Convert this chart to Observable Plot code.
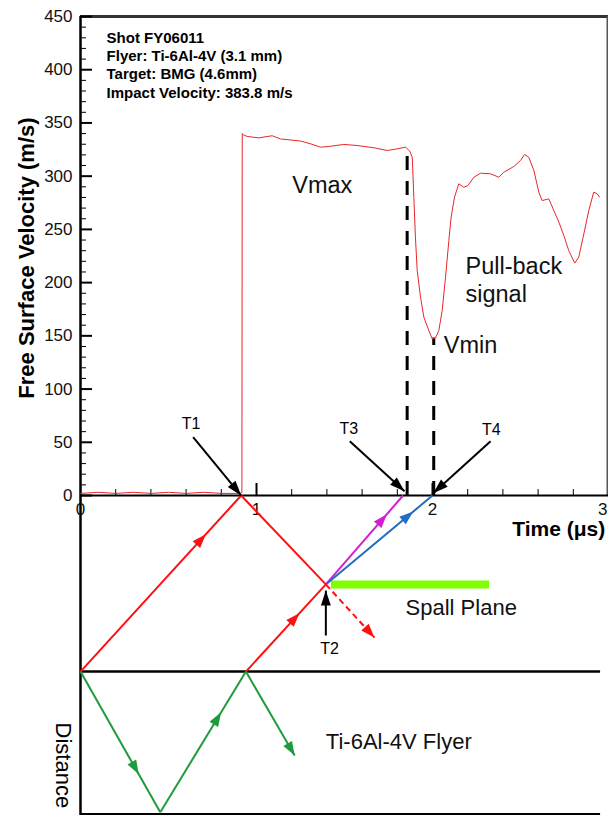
<!DOCTYPE html>
<html><head><meta charset="utf-8">
<script src="https://cdn.jsdelivr.net/npm/d3@7"></script>
<script src="https://cdn.jsdelivr.net/npm/@observablehq/plot@0.6"></script>
<style>
html,body{margin:0;padding:0;background:#fff;}
#chart svg{display:block;}
</style>
</head><body><div id="chart"></div>
<script>
// ---------- Data: free-surface velocity trace (time in µs, velocity in m/s) ----------
const time = [0, 0.1, 0.2, 0.3, 0.4, 0.5, 0.6, 0.7, 0.8, 0.905, 0.917, 0.919, 0.924, 0.947, 1.013, 1.089, 1.136, 1.193, 1.25, 1.307, 1.364, 1.411, 1.496, 1.572, 1.667, 1.743, 1.799, 1.847, 1.871, 1.885, 1.894, 1.903, 1.913, 1.932, 1.951, 1.979, 1.998, 2.017, 2.036, 2.055, 2.074, 2.093, 2.106, 2.125, 2.149, 2.178, 2.201, 2.235, 2.273, 2.330, 2.377, 2.405, 2.462, 2.5, 2.523, 2.547, 2.576, 2.604, 2.623, 2.661, 2.689, 2.718, 2.746, 2.774, 2.808, 2.831, 2.860, 2.888, 2.916, 2.936, 2.949];
const velocity = [2, 3, 2, 3, 2, 3, 2, 3, 2, 2, 3, 340, 339, 337.3, 336, 338, 335, 334, 333, 330.4, 327.2, 327.9, 329.8, 328.8, 326.7, 324.1, 325.7, 327.2, 323.5, 317.8, 280, 242.7, 211.4, 186.3, 167.5, 155, 147.2, 148, 155, 173.8, 205, 239.6, 261.5, 280.2, 292.8, 289.6, 291.2, 299, 302.8, 302.2, 299, 303.7, 309.1, 314.7, 320.4, 317.8, 305.3, 285, 277.1, 278.7, 267.8, 256.8, 244.3, 230.2, 218.3, 223.9, 245.9, 267.8, 285, 283.4, 280.3];

// ---------- Axis ticks ----------
const yMajorTicks = [0, 50, 100, 150, 200, 250, 300, 350, 400, 450];
const yMinorTicks = d3.range(0, 451, 10).filter(v => v % 50 !== 0);
const xMajorTicks = [0, 1, 2, 3];
const xMinorTicks = d3.range(1, 15).map(i => i / 5).filter(v => Math.abs(v - Math.round(v)) > 1e-9);

// ---------- Shot information ----------
const infoLines = ["Shot FY06011", "Flyer: Ti-6Al-4V (3.1 mm)", "Target: BMG (4.6mm)", "Impact Velocity: 383.8 m/s"];

// ---------- Characteristic times ----------
const tVmaxEnd = 1.856, vVmaxEnd = 326;
const tVmin = 2.007, vVmin = 148;

// ---------- Wave (distance-time) diagram, distance in the lower panel's units ----------
const interfaceD = -165.4;   // flyer/target impact interface
const flyerBackD = -297.5;   // flyer rear surface
const spallD = -83.5;        // spall plane
const waveKind  = ["target", "target", "target", "targetDash", "spallT3", "spallT4", "flyer", "flyer", "flyer"];
const waveT1    = [0,      0.913, 0.940,  1.394, 1.394, 1.394, 0,      0.4534, 0.940];
const waveD1    = [-165.4, 0,     -165.4, -83.5, -83.5, -83.5, -165.4, -297.5, -165.4];
const waveT2    = [0.913,  1.394, 1.394,  1.670, 1.833, 2.0,   0.4534, 0.940,  1.217];
const waveD2    = [0,      -83.5, -83.5,  -133.4, 0,    0,     -297.5, -165.4, -244.3];
const waveHead  = [0.78,   null,  0.67,   1,     0.79,  0.82,  0.73,   0.71,   1];
const spallStart = 1.426, spallEnd = 2.324;

// ---------- Labelled arrows T1..T4 ----------
const tLabels = ["T1", "T3", "T4", "T2"];
const tLabelX = [0.628, 1.524, 2.334, 1.415];
const tLabelY = [67.1, 62.7, 61.7, -143.7];
const tArrowX1 = [0.640, 1.530, 2.330, 1.394];
const tArrowY1 = [54.8, 51.0, 51.0, -131.5];
const tArrowX2 = [0.913, 1.841, 2.004, 1.394];
const tArrowY2 = [0, 4.0, 2.2, -89.3];

// ---------- Text annotations ----------
const noteText = ["Vmax", "Pull-back", "signal", "Vmin"];
const noteX = [1.203, 2.1875, 2.1875, 2.064];
const noteY = [284.0, 208.3, 181.6, 133.7];
const diagramText = ["Spall Plane", "Ti-6Al-4V Flyer"];
const diagramX = [1.847, 1.394];
const diagramY = [-111.8, -238.0];

// ---------- Styles ----------
const FONT = "Liberation Sans, Arial, Helvetica, sans-serif";
const colors = {target: "#ff1010", targetDash: "#ff1010", spallT3: "#d21fd2", spallT4: "#1f6dc4", flyer: "#1f9a3e"};
const W = 608, H = 815, ML = 80, MR = 0, MT = 16, MB = 0;
const X_DOMAIN = [0, 3];
const Y_DOMAIN = [-300.6, 450];

const sx = Plot.scale({x: {domain: X_DOMAIN, range: [ML, W - MR]}});
const sy = Plot.scale({y: {domain: Y_DOMAIN, range: [H - MB, MT]}});
const xPx = px => sx.invert(sx.apply(0) + px);
const yPx = px => sy.invert(sy.apply(0) - px);
const angleOf = (t1, d1, t2, d2) => {
  const dx = sx.apply(t2) - sx.apply(t1), dy = sy.apply(d2) - sy.apply(d1);
  return Math.atan2(dx, -dy) * 180 / Math.PI;
};
function headSymbol(len, half) {
  return {draw(ctx) { ctx.moveTo(0, 0); ctx.lineTo(half, len); ctx.lineTo(-half, len); ctx.closePath(); }};
}

const trace = time.map((t, i) => ({t, v: velocity[i]}));
const waves = waveKind.map((k, i) => ({k, t1: waveT1[i], d1: waveD1[i], t2: waveT2[i], d2: waveD2[i], h: waveHead[i]}));
const heads = waves.filter(w => w.h != null).map(w => ({
  k: w.k,
  t: w.t1 + (w.t2 - w.t1) * w.h,
  d: w.d1 + (w.d2 - w.d1) * w.h,
  a: angleOf(w.t1, w.d1, w.t2, w.d2)
}));
const tArrows = tLabels.map((s, i) => ({s, lx: tLabelX[i], ly: tLabelY[i], x1: tArrowX1[i], y1: tArrowY1[i], x2: tArrowX2[i], y2: tArrowY2[i], a: angleOf(tArrowX1[i], tArrowY1[i], tArrowX2[i], tArrowY2[i])}));
const notes = noteText.map((s, i) => ({s, x: noteX[i], y: noteY[i]}));
const diagNotes = diagramText.map((s, i) => ({s, x: diagramX[i], y: diagramY[i]}));
const info = infoLines.map((s, i) => ({s, i}));
const lastTick = xMajorTicks[xMajorTicks.length - 1];

const plot = Plot.plot({
  width: W, height: H,
  marginLeft: ML, marginRight: MR, marginTop: MT, marginBottom: MB,
  x: {domain: X_DOMAIN, axis: null},
  y: {domain: Y_DOMAIN, axis: null},
  style: {fontFamily: FONT, background: "#fff", color: "#000"},
  marks: [
    // frame & axes
    Plot.ruleY([450], {x1: 0, x2: 3, stroke: "#333", strokeWidth: 3}),
    Plot.ruleX([3], {y1: 0, y2: 450, stroke: "#555", strokeWidth: 2, dx: -1}),
    Plot.ruleY([0], {x1: 0, x2: 3, stroke: "#000", strokeWidth: 2}),
    Plot.ruleY([interfaceD], {x1: 0, x2: 2.955, stroke: "#000", strokeWidth: 2.5}),
    Plot.ruleY([flyerBackD - 2], {x1: 0, x2: 2.955, stroke: "#000", strokeWidth: 2.5}),
    Plot.ruleY(yMajorTicks, {y: d => d, x1: 0, x2: xPx(12), stroke: "#000", strokeWidth: 2}),
    Plot.ruleY(yMinorTicks, {y: d => d, x1: 0, x2: xPx(6), stroke: "#000", strokeWidth: 1}),
    Plot.ruleX(xMajorTicks.filter(d => d > 0 && d < 3), {x: d => d, y1: 0, y2: yPx(12), stroke: "#000", strokeWidth: 2}),
    Plot.ruleX(xMinorTicks, {x: d => d, y1: 0, y2: yPx(6), stroke: "#000", strokeWidth: 1}),
    Plot.ruleX([0], {y1: Y_DOMAIN[0], y2: 450, stroke: "#000", strokeWidth: 2.5}),
    Plot.text(yMajorTicks, {x: 0, y: d => d, text: d => String(d), textAnchor: "end", dx: -8, lineAnchor: "middle", fontSize: 17, fill: "#111"}),
    Plot.text(xMajorTicks.filter(d => d !== lastTick), {x: d => d, y: 0, text: d => String(d), dy: 14, lineAnchor: "middle", fontSize: 17, fill: "#111", textAnchor: "middle"}),
    Plot.text([lastTick], {x: d => d, y: 0, text: d => String(d), dy: 14, dx: -1, lineAnchor: "middle", fontSize: 17, fill: "#111", textAnchor: "end"}),
    Plot.text(["Time (\u03bcs)"], {x: 2.453, y: 0, dy: 40, textAnchor: "start", lineAnchor: "bottom", fontSize: 21, fontWeight: "bold"}),
    Plot.text(["Free Surface Velocity (m/s)"], {x: -0.267, y: 223.1, rotate: -90, textAnchor: "middle", lineAnchor: "bottom", fontSize: 22, fontWeight: "bold"}),
    Plot.text(["Distance"], {x: -0.0966, y: -213.3, rotate: 90, textAnchor: "start", lineAnchor: "middle", fontSize: 22}),

    // info box
    Plot.text(info, {x: 0.148, y: d => 425.3 - d.i * 17.2, text: "s", textAnchor: "start", lineAnchor: "bottom", fontSize: 15, fontWeight: "bold"}),

    // dashed guides
    Plot.ruleX([{t: tVmaxEnd, v: vVmaxEnd}, {t: tVmin, v: vVmin}], {x: "t", y1: 0, y2: "v", stroke: "#000", strokeWidth: 3, strokeDasharray: "14,11"}),

    // velocity trace
    Plot.line(trace, {x: "t", y: "v", stroke: "#e8262a", strokeWidth: 1}),

    // wave diagram
    Plot.ruleY([spallD], {x1: spallStart, x2: spallEnd, stroke: "#7fff00", strokeWidth: 8}),
    Plot.link(waves.filter(d => d.k !== "targetDash"), {x1: "t1", y1: "d1", x2: "t2", y2: "d2", stroke: d => colors[d.k], strokeWidth: 2}),
    Plot.link(waves.filter(d => d.k === "targetDash"), {x1: "t1", y1: "d1", x2: "t2", y2: "d2", stroke: d => colors[d.k], strokeWidth: 2, strokeDasharray: "6,4"}),
    Plot.dot(heads, {x: "t", y: "d", r: 5, symbol: headSymbol(14, 5), rotate: "a", fill: d => colors[d.k], stroke: "none"}),

    // T arrows
    Plot.link(tArrows, {x1: "x1", y1: "y1", x2: "x2", y2: "y2", stroke: "#000", strokeWidth: 2}),
    Plot.dot(tArrows, {x: "x2", y: "y2", r: 5, symbol: headSymbol(15, 5), rotate: "a", fill: "#000", stroke: "none"}),
    Plot.text(tArrows, {x: "lx", y: "ly", text: "s", textAnchor: "middle", lineAnchor: "middle", fontSize: 16}),

    // annotations
    Plot.text(notes, {x: "x", y: "y", text: "s", textAnchor: "start", lineAnchor: "bottom", fontSize: 23.5, fill: "#111"}),
    Plot.text(diagNotes, {x: "x", y: "y", text: "s", textAnchor: "start", lineAnchor: "bottom", fontSize: 22, fill: "#111"})
  ]
});
document.getElementById("chart").appendChild(plot);
</script></body></html>
